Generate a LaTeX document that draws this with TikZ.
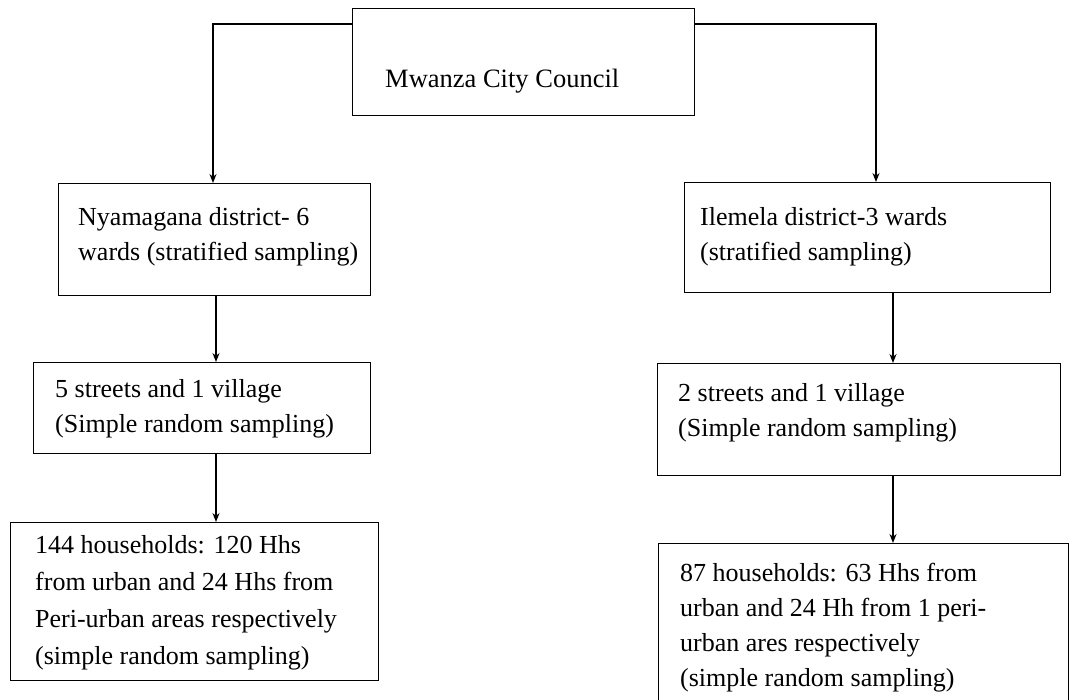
\documentclass[tikz,border=0pt]{standalone}
\usepackage{fontspec}
\setmainfont{Liberation Serif}
\usetikzlibrary{arrows.meta}
\begin{document}
\begin{tikzpicture}[x=1pt,y=-1pt,
  box/.style={draw,line width=1.4pt,rectangle,anchor=north west,inner sep=0pt},
  txt/.style={anchor=base west,align=left,inner sep=0pt,font=\fontsize{26}{35}\selectfont},
  conn/.style={line width=1.3pt,-{Stealth[length=9pt,width=7pt]}}]
\useasboundingbox (0,0) rectangle (1076,699);
% boxes
\node[box,minimum width=342pt,minimum height=107pt] (council) at (352,8) {};
\node[box,minimum width=312pt,minimum height=112pt] (nyam) at (58,183) {};
\node[box,minimum width=366pt,minimum height=110pt] (ilem) at (684,182) {};
\node[box,minimum width=337pt,minimum height=91pt] (nstreet) at (33,362) {};
\node[box,minimum width=403pt,minimum height=112pt] (istreet) at (657,363) {};
\node[box,minimum width=368pt,minimum height=158pt] (nhh) at (10,522) {};
\node[box,minimum width=410pt,minimum height=180pt] (ihh) at (658,543) {};
% texts
\node[txt,font=\fontsize{26.5}{35}\selectfont] (tcouncil) at (385,87) {Mwanza City Council};
\node[txt] (tnyam) at (78,260) {Nyamagana district- 6\\wards (stratified sampling)};
\node[txt] (tilem) at (700,260) {Ilemela district-3 wards\\(stratified sampling)};
\node[txt] (tnstreet) at (55,432) {5 streets and 1 village\\(Simple random sampling)};
\node[txt] (tistreet) at (678,436) {2 streets and 1 village\\(Simple random sampling)};
\node[txt,font=\fontsize{26}{37}\selectfont] (tnhh) at (35,664) {144 households: 120 Hhs\\from urban and 24 Hhs from\\Peri-urban areas respectively\\(simple random sampling)};
\node[txt] (tihh) at (680,686) {87 households: 63 Hhs from\\urban and 24 Hh from 1 peri-\\urban ares respectively\\(simple random sampling)};
% connectors
\coordinate (lc) at (213,24);
\coordinate (rc) at (876,24);
\draw[conn] (council.west |- lc) -- (lc) -- (lc |- nyam.north);
\draw[conn] (council.east |- rc) -- (rc) -- (rc |- ilem.north);
\coordinate (lx) at (216,0);
\coordinate (rx) at (893,0);
\draw[conn] (lx |- nyam.south) -- (lx |- nstreet.north);
\draw[conn] (lx |- nstreet.south) -- (lx |- nhh.north);
\draw[conn] (rx |- ilem.south) -- (rx |- istreet.north);
\draw[conn] (rx |- istreet.south) -- (rx |- ihh.north);
\end{tikzpicture}
\end{document}
